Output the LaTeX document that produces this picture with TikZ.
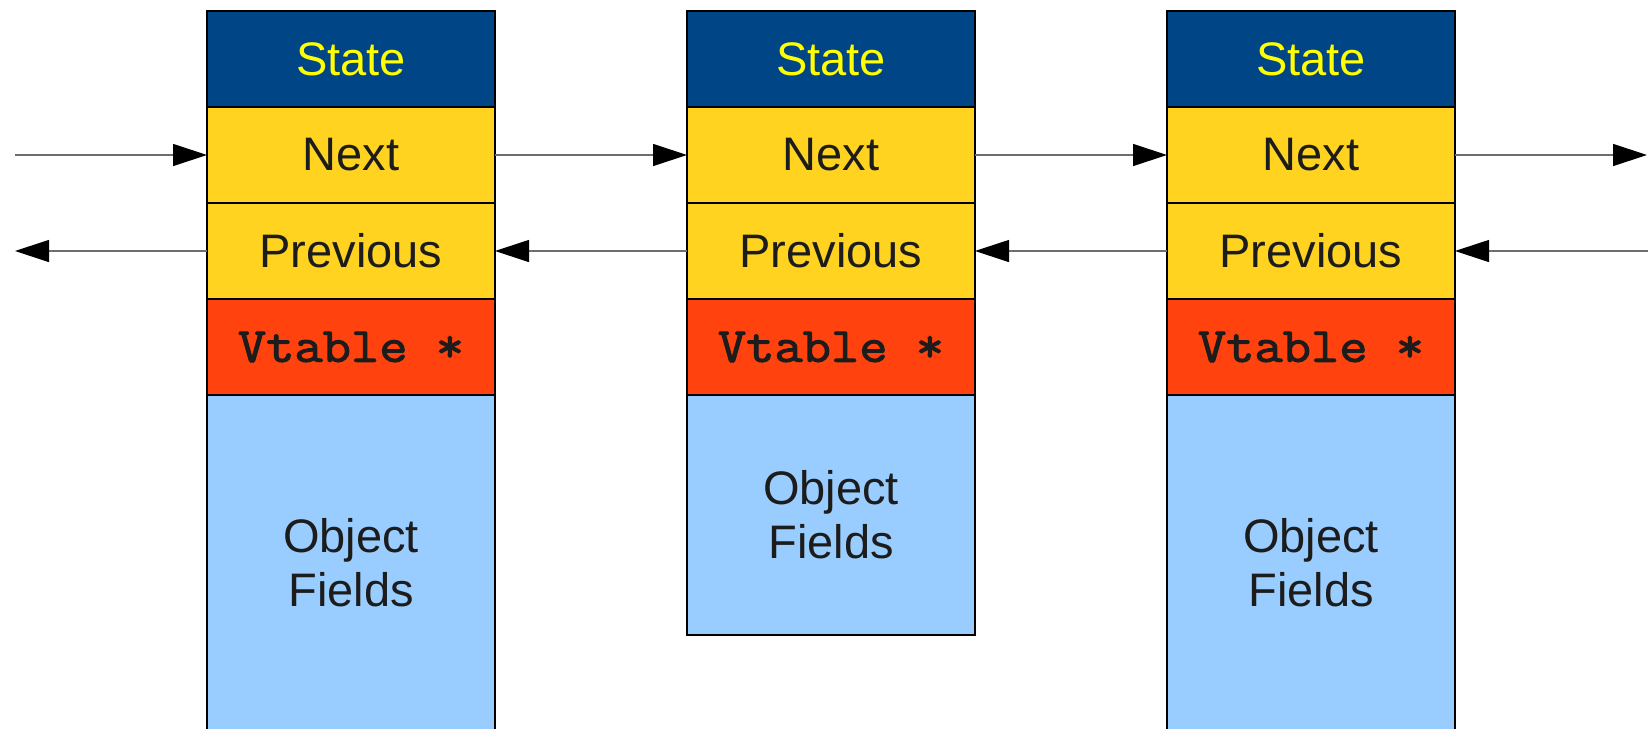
\documentclass[tikz,border=0pt]{standalone}
\usepackage{fontspec}
\setmainfont{Liberation Sans}
\newfontfamily\vtfont{Latin Modern Mono}[FakeBold=2.2, FakeStretch=1.12]
\usetikzlibrary{arrows.meta}
\definecolor{stateblue}{HTML}{004586}
\definecolor{gold}{HTML}{FFD320}
\definecolor{vred}{HTML}{FF420E}
\definecolor{objblue}{HTML}{99CCFF}
\definecolor{txt}{HTML}{1C1C1C}
\definecolor{statetxt}{HTML}{FFFF00}
\definecolor{lnk}{HTML}{6E6E6E}
\tikzset{
  cell/.style={draw=black, line width=0.7pt, minimum width=144pt, minimum height=48pt,
    inner sep=0pt, outer sep=0pt, text=txt, font=\fontsize{23.5}{27}\selectfont, align=center},
  statecell/.style={cell, fill=stateblue, text=statetxt},
  ptrcell/.style={cell, fill=gold},
  vtcell/.style={cell, fill=vred, font=\fontsize{24.5}{27}\selectfont\vtfont},
  objcell/.style={cell, fill=objblue},
  link/.style={draw=lnk, line width=0.6pt, -{Triangle[length=17pt,width=11pt,black]}}
}
\begin{document}
\begin{tikzpicture}[x=0.5pt,y=-0.5pt]
\useasboundingbox (0,0) rectangle (1648,728);
\begin{scope}
\clip (0,0) rectangle (1648,728);
% box 1
\node[statecell] (s1) at (351,59) {State};
\node[ptrcell] (n1) at (351,155) {Next};
\node[ptrcell] (p1) at (351,251) {Previous};
\node[vtcell] (v1) at (351,347) {Vtable *};
\node[objcell, minimum height=168pt] (o1) at (351,563) {Object\\Fields};
% box 2
\node[statecell] (s2) at (831,59) {State};
\node[ptrcell] (n2) at (831,155) {Next};
\node[ptrcell] (p2) at (831,251) {Previous};
\node[vtcell] (v2) at (831,347) {Vtable *};
\node[objcell, minimum height=120pt] (o2) at (831,515) {Object\\Fields};
% box 3
\node[statecell] (s3) at (1311,59) {State};
\node[ptrcell] (n3) at (1311,155) {Next};
\node[ptrcell] (p3) at (1311,251) {Previous};
\node[vtcell] (v3) at (1311,347) {Vtable *};
\node[objcell, minimum height=168pt] (o3) at (1311,563) {Object\\Fields};
\end{scope}
% free ends
\coordinate (inN) at (15,155);
\coordinate (outP) at (15,251);
\coordinate (outN) at (1647,155);
\coordinate (inP) at (1648,251);
% links
\draw[link] (inN) -- (n1.west);
\draw[link] (n1.east) -- (n2.west);
\draw[link] (n2.east) -- (n3.west);
\draw[link] (n3.east) -- (outN);
\draw[link] (inP) -- (p3.east);
\draw[link] (p3.west) -- (p2.east);
\draw[link] (p2.west) -- (p1.east);
\draw[link] (p1.west) -- (outP);
\end{tikzpicture}
\end{document}
